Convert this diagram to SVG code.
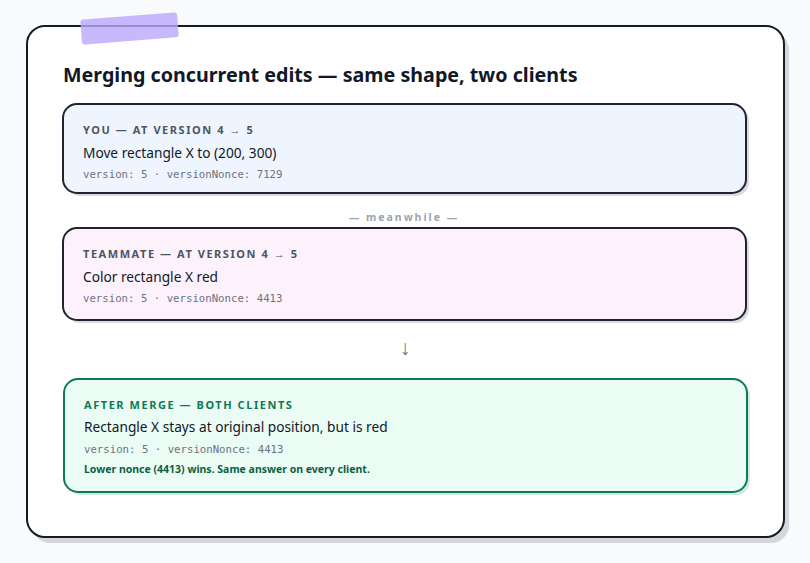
<svg xmlns="http://www.w3.org/2000/svg" width="810" height="563" viewBox="0 0 810 563">
<style>
.sans{font-family:"Noto Sans","Open Sans","Liberation Sans",sans-serif}
.mono{font-family:"DejaVu Sans Mono","Liberation Mono",monospace;font-size:10.7px;fill:#6b7280}
.lbl{font-size:11px;font-weight:700;letter-spacing:1.55px;fill:#4b5563}
.main{font-size:13.7px;fill:#111827}
.box{stroke:#1f2430;stroke-width:2}
.shadow{fill:#d9dbe0}
</style>
<rect x="0" y="0" width="810" height="563" fill="#f8fafc"/>
<rect x="32" y="32" width="757" height="511" rx="18" fill="#d4d6db"/>
<rect x="27" y="26" width="757" height="511" rx="18" fill="#ffffff" stroke="#151a24" stroke-width="2"/>
<rect x="81" y="16" width="97" height="25" rx="3" fill="#b9a8fb" opacity="0.8" transform="rotate(-4.5 129 28)"/>
<text class="sans" x="63" y="82" font-size="19.7" font-weight="700" fill="#111827">Merging concurrent edits — same shape, two clients</text>

<g id="node-you">
<rect class="shadow" x="66" y="107" width="683" height="89" rx="14"/>
<rect class="box" x="63" y="104" width="683" height="89" rx="14" fill="#eef5ff"/>
<text class="sans lbl" x="83" y="134">YOU — AT VERSION 4 → 5</text>
<text class="sans main" x="83" y="158">Move rectangle X to (200, 300)</text>
<text class="mono" x="83" y="178">version: 5 · versionNonce: 7129</text>
</g>

<text class="sans" x="404" y="221" text-anchor="middle" font-size="10.5" font-weight="700" letter-spacing="2" fill="#9ca3af">— meanwhile —</text>

<g id="node-teammate">
<rect class="shadow" x="66" y="231" width="683" height="92" rx="14"/>
<rect class="box" x="63" y="228" width="683" height="92" rx="14" fill="#fdf2fc"/>
<text class="sans lbl" x="83" y="258">TEAMMATE — AT VERSION 4 → 5</text>
<text class="sans main" x="83" y="282">Color rectangle X red</text>
<text class="mono" x="83" y="302">version: 5 · versionNonce: 4413</text>
</g>

<g id="connectors">
<text class="sans" x="405" y="355" text-anchor="middle" font-size="21" fill="#6b7280">↓</text>
</g>

<g id="node-merge">
<rect x="67" y="382" width="683" height="113" rx="14" fill="#d2e9df"/>
<rect x="64" y="379" width="683" height="113" rx="14" fill="#ebfcf4" stroke="#107a58" stroke-width="2"/>
<text class="sans lbl" x="84" y="409" style="fill:#0b7a55">AFTER MERGE — BOTH CLIENTS</text>
<text class="sans main" x="84" y="432">Rectangle X stays at original position, but is red</text>
<text class="mono" x="84" y="453">version: 5 · versionNonce: 4413</text>
<text class="sans" x="84" y="473" font-size="10.5" font-weight="700" fill="#0c5f45">Lower nonce (4413) wins. Same answer on every client.</text>
</g>
</svg>
